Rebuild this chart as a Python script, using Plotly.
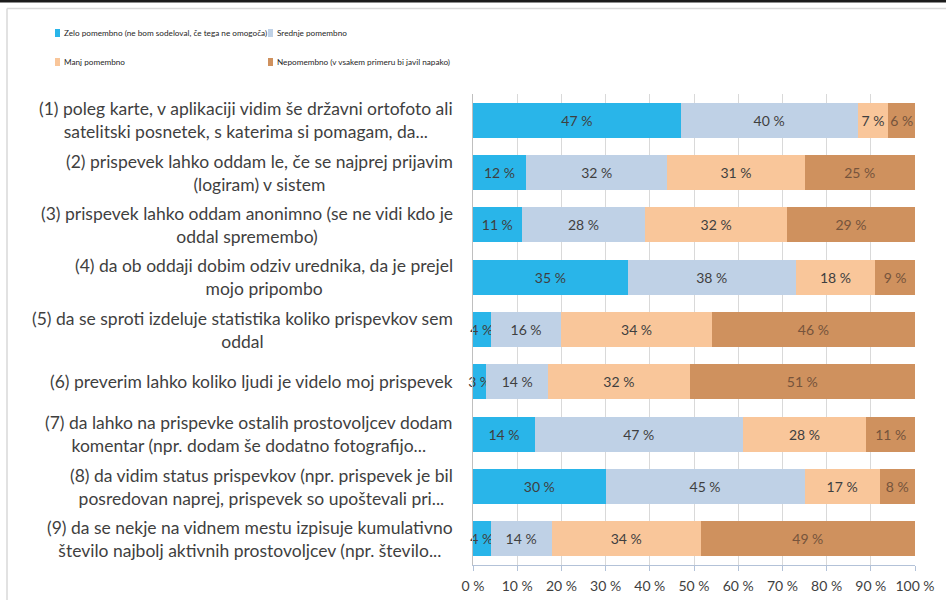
import plotly.graph_objects as go

# Survey items (rows of the chart, top to bottom)
items = [
    "(1) poleg karte, v aplikaciji vidim še državni ortofoto ali<br>satelitski posnetek, s katerima si pomagam, da...",
    "(2) prispevek lahko oddam le, če se najprej prijavim<br>(logiram) v sistem",
    "(3) prispevek lahko oddam anonimno (se ne vidi kdo je<br>oddal spremembo)",
    "(4) da ob oddaji dobim odziv urednika, da je prejel<br>mojo pripombo",
    "(5) da se sproti izdeluje statistika koliko prispevkov sem<br>oddal",
    "(6) preverim lahko koliko ljudi je videlo moj prispevek",
    "(7) da lahko na prispevke ostalih prostovoljcev dodam<br>komentar (npr. dodam še dodatno fotografijo...",
    "(8) da vidim status prispevkov (npr. prispevek je bil<br>posredovan naprej, prispevek so upoštevali pri...",
    "(9) da se nekje na vidnem mestu izpisuje kumulativno<br>število najbolj aktivnih prostovoljcev (npr. število...",
]

series_names = [
    "Zelo pomembno (ne bom sodeloval, če tega ne omogoča)",
    "Srednje pomembno",
    "Manj pomembno",
    "Nepomembno (v vsakem primeru bi javil napako)",
]

zelo = [47, 12, 11, 35, 4, 3, 14, 30, 4]
srednje = [40, 32, 28, 38, 16, 14, 47, 45, 14]
manj = [7, 31, 32, 18, 34, 32, 28, 17, 34]
nepomembno = [6, 25, 29, 9, 46, 51, 11, 8, 49]

x_ticks = [0, 10, 20, 30, 40, 50, 60, 70, 80, 90, 100]

series_values = [zelo, srednje, manj, nepomembno]
colors = ["#29B5E9", "#BFD1E6", "#F9C69A", "#CF915E"]
text_colors = ["#3F3F3F", "#3F3F3F", "#3F3F3F", "#76543C"]

# Canvas geometry
W, H = 946, 600
ML, MR, MT, MB = 473, 31, 94, 35
PW, PH = W - ML - MR, H - MT - MB


def px(x):
    return (x - ML) / PW


def py(y):
    return (H - MB - y) / PH


fig = go.Figure()
for name, vals, col, tcol in zip(series_names, series_values, colors, text_colors):
    fig.add_trace(go.Bar(
        y=items, x=vals, name=name, orientation="h",
        marker=dict(color=col, line=dict(width=0)),
        text=[f"{v} %" for v in vals],
        textposition="inside", insidetextanchor="middle", textangle=0,
        textfont=dict(family="Lato", size=14, color=tcol),
        cliponaxis=False,
        showlegend=False, hoverinfo="skip",
    ))

shapes = [
    # dark strip along the top edge
    dict(type="rect", xref="paper", yref="paper", x0=px(0), x1=px(W), y0=py(2.5), y1=py(0),
         fillcolor="#1C1C1C", line=dict(width=0), layer="above"),
    # chart frame
    dict(type="line", xref="paper", yref="paper", x0=px(7), x1=px(W), y0=py(8.5), y1=py(8.5),
         line=dict(color="#D9D9D9", width=1.5)),
    dict(type="line", xref="paper", yref="paper", x0=px(7), x1=px(7), y0=py(8.5), y1=py(H),
         line=dict(color="#D9D9D9", width=1.5)),
]

annotations = []
# category labels, lines centred within each block
for it in items:
    annotations.append(dict(
        x=0, xref="paper", xshift=-18, xanchor="right", align="center",
        y=it, yref="y", yanchor="middle", showarrow=False, text=it,
        font=dict(family="Lato", size=17.5, color="#3F3F3F"),
    ))

# legend in two columns
leg_pos = [(55, 33), (268, 33), (55, 62), (268, 62)]
for (lx, ly), name, col in zip(leg_pos, series_names, colors):
    shapes.append(dict(type="rect", xref="paper", yref="paper",
                       x0=px(lx), x1=px(lx + 5), y0=py(ly + 4), y1=py(ly - 4),
                       fillcolor=col, line=dict(width=0)))
    annotations.append(dict(
        x=px(lx + 7), xref="paper", xanchor="left", y=py(ly), yref="paper", yanchor="middle",
        showarrow=False, text=name,
        font=dict(family="Lato", size=8.2, color="#262626"),
    ))

fig.update_layout(
    width=W, height=H,
    margin=dict(l=ML, r=MR, t=MT, b=MB, pad=0, autoexpand=False),
    barmode="stack", barnorm="percent", bargap=0.33,
    paper_bgcolor="white", plot_bgcolor="white",
    font=dict(family="Lato", color="#3F3F3F"),
    uniformtext=dict(minsize=14, mode="show"),
    shapes=shapes, annotations=annotations,
    xaxis=dict(
        range=[0, 100], tickvals=x_ticks, ticktext=[f"{t} %" for t in x_ticks],
        showgrid=True, gridcolor="#D9D9D9", gridwidth=1,
        showline=True, linecolor="#B3C2D8", linewidth=1,
        ticks="outside", ticklen=5, tickcolor="#B3C2D8",
        ticklabelstandoff=3, automargin=False,
        tickfont=dict(family="Lato", size=14, color="#3F3F3F"),
        zeroline=False, fixedrange=True,
    ),
    yaxis=dict(
        autorange="reversed", showticklabels=False, ticks="", automargin=False,
        showline=True, linecolor="#BFBFBF", linewidth=1,
        showgrid=False, zeroline=False, fixedrange=True,
    ),
)

fig.write_html("out.html", config={"displayModeBar": False})
